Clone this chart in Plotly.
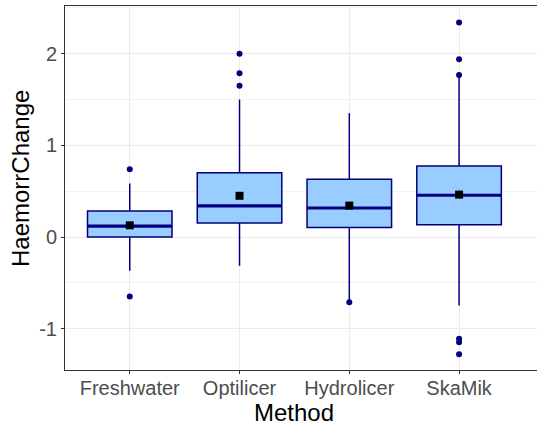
import plotly.graph_objects as go

# Summary statistics of haemorrhage change per delousing method
methods = ["Freshwater", "Optilicer", "Hydrolicer", "SkaMik"]
q1 = [0.00, 0.153, 0.103, 0.135]
median = [0.12, 0.339, 0.317, 0.456]
q3 = [0.284, 0.70, 0.63, 0.776]
lower_whisker = [-0.367, -0.313, -0.71, -0.746]
upper_whisker = [0.583, 1.50, 1.349, 1.767]
means = [0.128, 0.450, 0.343, 0.463]

# Observations outside the whiskers (plus points sitting on whisker ends)
outlier_method = ["Freshwater", "Freshwater",
                  "Optilicer", "Optilicer", "Optilicer",
                  "Hydrolicer",
                  "SkaMik", "SkaMik", "SkaMik", "SkaMik", "SkaMik", "SkaMik"]
outlier_value = [0.74, -0.648,
                 2.0, 1.786, 1.65,
                 -0.71,
                 2.34, 1.94, 1.767, -1.11, -1.147, -1.279]

y_ticks = [-1, 0, 1, 2]
y_tick_labels = ["-1", "0", "1", "2"]

pos = list(range(len(methods)))
pos_of = {m: i for i, m in enumerate(methods)}
box_w = 0.77

NAVY = "#000080"
FILL = "#99CCFF"

fig = go.Figure()

fig.add_trace(go.Box(
    x=pos, q1=q1, median=median, q3=q3,
    lowerfence=lower_whisker, upperfence=upper_whisker,
    width=box_w, whiskerwidth=0,
    fillcolor=FILL, line=dict(color=NAVY, width=1.5),
    boxpoints=False, showlegend=False, hoverinfo="skip",
))

# thicker median bars
mx, my = [], []
for i, m in zip(pos, median):
    mx += [i - box_w / 2, i + box_w / 2, None]
    my += [m, m, None]
fig.add_trace(go.Scatter(x=mx, y=my, mode="lines",
                         line=dict(color=NAVY, width=3.2),
                         showlegend=False, hoverinfo="skip"))

fig.add_trace(go.Scatter(
    x=[pos_of[m] for m in outlier_method], y=outlier_value, mode="markers",
    marker=dict(color=NAVY, size=6, symbol="circle"),
    showlegend=False,
))

fig.add_trace(go.Scatter(
    x=pos, y=means, mode="markers",
    marker=dict(color="black", size=8, symbol="square"),
    showlegend=False,
))

FONT = "Liberation Sans, Arial, sans-serif"
axis_font = dict(family=FONT, size=20, color="#4D4D4D")
title_font = dict(family=FONT, size=24, color="black")

fig.update_layout(
    width=537, height=430,
    margin=dict(l=65, r=0, t=6, b=60),
    paper_bgcolor="white", plot_bgcolor="white",
    xaxis=dict(
        range=[-0.59, 3.71], tickvals=pos, ticktext=methods,
        tickfont=axis_font, ticklabelstandoff=-3,
        showgrid=True, gridcolor="#EBEBEB", gridwidth=1,
        showline=True, linecolor="#333333", linewidth=1, mirror=True,
        ticks="outside", ticklen=3, tickcolor="#333333", zeroline=False,
    ),
    yaxis=dict(
        range=[-1.45, 2.52], tickvals=y_ticks, ticktext=y_tick_labels,
        tickfont=axis_font,
        showgrid=True, gridcolor="#EBEBEB", gridwidth=1,
        minor=dict(tickvals=[-1.5, -0.5, 0.5, 1.5, 2.5], showgrid=True,
                   gridcolor="#F2F2F2", gridwidth=0.6, ticks=""),
        showline=True, linecolor="#333333", linewidth=1, mirror=False,
        ticks="outside", ticklen=3, tickcolor="#333333", zeroline=False,
    ),
    annotations=[
        dict(text="Method", font=title_font, xref="paper", yref="paper",
             x=0.485, y=-0.1154, xanchor="center", yanchor="middle", showarrow=False),
        dict(text="HaemorrChange", font=title_font, xref="paper", yref="paper",
             x=-0.0953, y=0.5247, xanchor="center", yanchor="middle",
             textangle=-90, showarrow=False),
    ],
)

fig.write_html("out.html")
